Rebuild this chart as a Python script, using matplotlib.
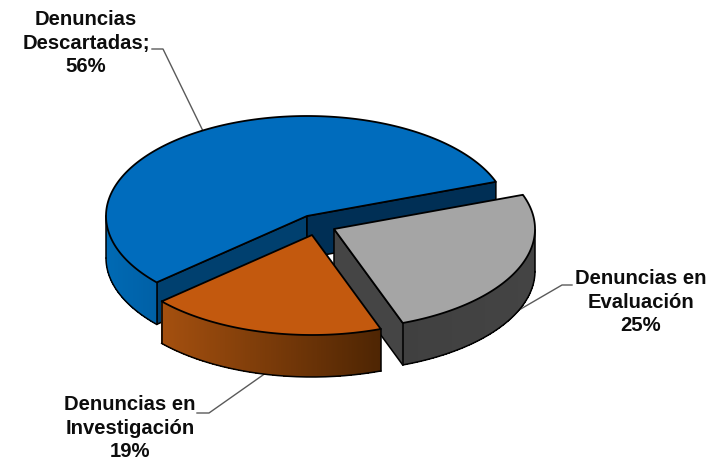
import numpy as np
import matplotlib
matplotlib.use("Agg")
from matplotlib import pyplot as plt
from matplotlib.patches import Polygon

categories = ["Denuncias\nDescartadas;\n56%", "Denuncias en\nEvaluación\n25%", "Denuncias en\nInvestigación\n19%"]
values = [56, 25, 19]

# layout in pixels of the 721x462 picture
centers = [(307, 216), (334, 229), (312, 235)]
top_colors = ["#006CBD", "#A5A5A5", "#C3590E"]
wall_left = ["#006AB4", "#404040", "#A5500F"]
wall_right = ["#0060A6", "#444444", "#4E2503"]
cut_colors = [["#00406F", "#002F55"], ["#454545"], ["#000000"]]
label_pos = [(86, 43), (641, 302), (130, 428)]
leaders = [[(203, 131), (163, 49), (152, 49)],
           [(519, 310), (562, 285), (572, 285)],
           [(263, 375), (209, 413), (197, 413)]]
A, B = 201, 100
DEPTH = 42
START = 20

fig = plt.figure(figsize=(7.21, 4.62), dpi=100)
ax = fig.add_axes([0, 0, 1, 1])
ax.set_xlim(0, 721)
ax.set_ylim(462, 0)
ax.axis("off")

def pt(c, t):
    r = np.radians(t)
    return np.column_stack([c[0] + A * np.cos(r), c[1] - B * np.sin(r)])

def mix(c1, c2, f):
    a = np.array(matplotlib.colors.to_rgb(c1))
    b = np.array(matplotlib.colors.to_rgb(c2))
    return a + (b - a) * f

# blue goes counter clockwise from the start angle, the other two clockwise
spans = [(START, START + values[0] * 3.6),
         (START - values[1] * 3.6, START),
         (START - (values[1] + values[2]) * 3.6, START - values[1] * 3.6)]

for i in [0, 1, 2]:
    t0, t1 = spans[i]
    c = centers[i]
    ts = np.linspace(t0, t1, 200)
    arc = pt(c, ts)

    # cut faces, only those facing the viewer
    k = 0
    for edge, sign in [(t1, 1), (t0, -1)]:
        e = pt(c, [edge])[0]
        d = e - np.array(c)
        if -sign * d[0] > 0:
            col = cut_colors[i][k]
            k += 1
            ax.add_patch(Polygon([c, e, (e[0], e[1] + DEPTH), (c[0], c[1] + DEPTH)],
                                 closed=True, fc=col, ec="black", lw=1.1, zorder=i * 3 + 1))

    # outer wall, shaded from left to right
    low = np.array([x for x in ts if np.sin(np.radians(x)) <= 0])
    if len(low) > 1:
        p = pt(c, low)
        order = np.argsort(p[:, 0])
        p = p[order]
        xa, xb = p[0, 0], p[-1, 0]
        for j in range(len(p) - 1):
            f = ((p[j, 0] + p[j + 1, 0]) / 2 - xa) / (xb - xa)
            quad = [p[j], p[j + 1], p[j + 1] + [0, DEPTH], p[j] + [0, DEPTH]]
            ax.add_patch(Polygon(quad, closed=True, fc=mix(wall_left[i], wall_right[i], f),
                                 ec="none", lw=0, aa=False, zorder=i * 3 + 2))
        ax.plot(p[:, 0], p[:, 1] + DEPTH, color="black", lw=1.1, zorder=i * 3 + 2.5)
        for q in (p[0], p[-1]):
            ax.plot([q[0], q[0]], [q[1], q[1] + DEPTH], color="black", lw=1.1, zorder=i * 3 + 2.5)

    # top face
    ax.add_patch(Polygon(np.vstack([[c], arc]), closed=True, fc=top_colors[i], ec="black",
                         lw=1.3, joinstyle="round", zorder=i * 3 + 3))

for line in leaders:
    xs, ys = zip(*line)
    ax.plot(xs, ys, color="#5A5A5A", lw=1.0, zorder=0)

for name, pos in zip(categories, label_pos):
    ax.text(pos[0], pos[1], name, ha="center", va="center", fontsize=14.6, fontweight="bold",
            family="Liberation Sans", color="#0D0D0D", linespacing=1.33, zorder=20)

fig.savefig("out.png", dpi=100)
